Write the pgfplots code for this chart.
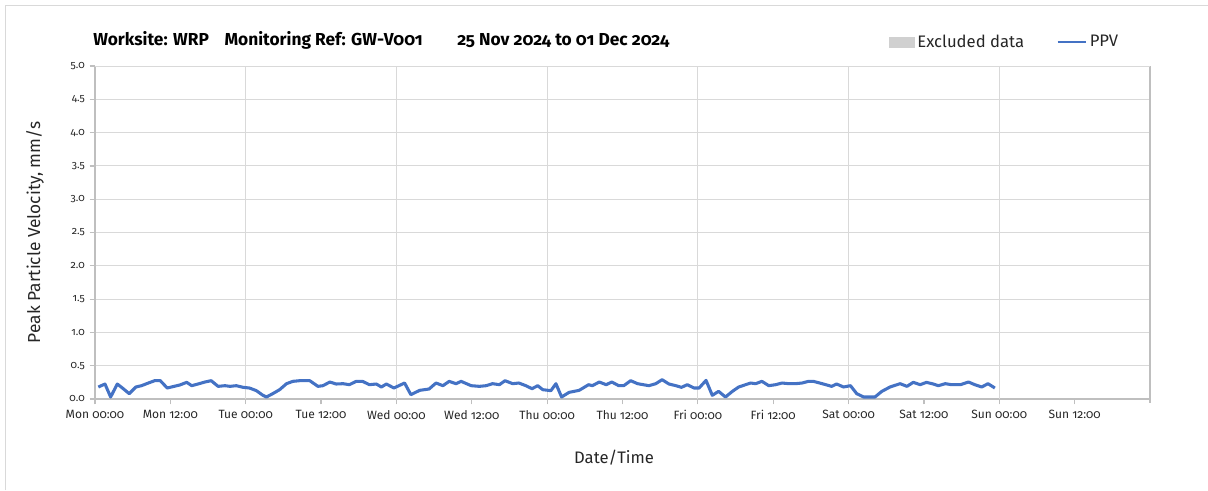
\documentclass[border=0pt]{standalone}
\usepackage{fontspec}
\setmainfont{Fira Sans}[Numbers=OldStyle]
\usepackage{pgfplots}
\pgfplotsset{compat=1.18}
\definecolor{ppv}{HTML}{4472C4}
\definecolor{gridc}{HTML}{D9D9D9}
\definecolor{axisc}{HTML}{BFBFBF}
\definecolor{excl}{HTML}{D0D0D0}
\definecolor{txt}{HTML}{262626}
\pgfplotstableread{
h v
0.53 0.18
1.59 0.225
2.49 0.03
3.55 0.225
4.5 0.155
5.45 0.08
6.5 0.18
7.4 0.2
8.5 0.24
9.5 0.275
10.4 0.275
11.5 0.165
12.6 0.19
13.5 0.21
14.6 0.25
15.4 0.2
16.4 0.225
17.5 0.255
18.5 0.275
19.6 0.19
20.7 0.2
21.5 0.19
22.5 0.2
23.6 0.175
24.6 0.165
25.7 0.125
26.75 0.055
27.3 0.03
28.3 0.08
29.4 0.14
30.5 0.23
31.5 0.265
32.6 0.275
34.2 0.275
35.5 0.19
36.3 0.2
37.4 0.255
38.4 0.225
39.5 0.23
40.5 0.215
41.6 0.265
42.6 0.265
43.7 0.215
44.8 0.225
45.6 0.18
46.4 0.225
47.6 0.165
49.3 0.24
50.3 0.065
51.7 0.13
53.2 0.15
54.3 0.24
55.4 0.2
56.4 0.265
57.5 0.23
58.3 0.265
59.9 0.2
61.2 0.19
62.3 0.2
63.3 0.23
64.4 0.215
65.3 0.275
66.5 0.23
67.5 0.24
68.6 0.2
69.6 0.155
70.5 0.2
71.3 0.14
72.6 0.125
73.4 0.23
74.3 0.03
75.5 0.1
77.1 0.13
78.6 0.215
79.2 0.2
80.3 0.255
81.4 0.215
82.3 0.255
83.4 0.2
84.2 0.2
85.3 0.275
86.4 0.23
88.2 0.2
89.3 0.23
90.3 0.29
91.4 0.225
92.5 0.2
93.4 0.175
94.3 0.215
95.4 0.165
96.2 0.165
97.3 0.28
98.3 0.055
99.3 0.115
100.4 0.03
101.5 0.115
102.5 0.18
103.6 0.215
104.4 0.24
105.2 0.23
106.2 0.265
107.3 0.2
108.4 0.215
109.4 0.24
110.5 0.23
111.5 0.23
112.6 0.24
113.6 0.265
114.4 0.265
115.8 0.23
117.3 0.19
118.1 0.225
119.2 0.18
120.3 0.2
121.3 0.08
122.4 0.03
124.2 0.03
125.3 0.115
126.6 0.18
128.2 0.23
129.3 0.19
130.3 0.25
131.4 0.215
132.4 0.25
133.5 0.225
134.3 0.2
135.4 0.23
136.4 0.215
137.8 0.215
139.1 0.255
140.1 0.215
141.2 0.18
142.2 0.23
143.3 0.165
}\ppvdata
\begin{document}
\begin{tikzpicture}
\useasboundingbox (0,0) rectangle (906pt,367.5pt);
\draw[color=gridc, line width=0.75pt] (3.75pt,0pt) -- (3.75pt,363pt) -- (906pt,363pt);
\begin{axis}[
  at={(71.25pt,68.25pt)}, anchor=south west,
  scale only axis, width=791.25pt, height=249.75pt,
  xmin=0, xmax=168, ymin=0, ymax=5,
  axis line style={color=axisc, line width=1.1pt},
  axis x line*=bottom, axis y line*=left,
  xtick={0,12,...,156},
  xticklabels={Mon 00:00,Mon 12:00,Tue 00:00,Tue 12:00,Wed 00:00,Wed 12:00,Thu 00:00,Thu 12:00,Fri 00:00,Fri 12:00,Sat 00:00,Sat 12:00,Sun 00:00,Sun 12:00},
  extra x ticks={24,48,...,168},
  extra x tick labels={},
  extra x tick style={grid=major, major tick length=0pt, major grid style={color=gridc, line width=0.75pt}},
  ytick={0,0.5,...,5},
  yticklabels={0.0,0.5,1.0,1.5,2.0,2.5,3.0,3.5,4.0,4.5,5.0},
  ymajorgrids, major grid style={color=gridc, line width=0.75pt},
  tick style={color=axisc, line width=0.9pt},
  major tick length=4pt,
  tick align=outside,
  xticklabel style={font=\fontsize{9}{10}\selectfont, text=txt, yshift=-1pt},
  yticklabel style={font=\fontsize{8}{9}\selectfont, text=txt},
  xlabel={Date/Time}, ylabel={Peak Particle Velocity, mm/s},
  label style={font=\fontsize{12.5}{14}\selectfont, text=txt},
  ylabel style={at={(axis description cs:-0.0569,0.5)}, anchor=center, font=\fontsize{13}{14}\selectfont},
  xlabel style={at={(axis description cs:0.492,-0.177)}, anchor=center},
  legend style={at={(0.9763,1.072)}, anchor=east, draw=none, fill=none,
    legend columns=2, font=\fontsize{12.5}{14}\selectfont, text=txt,
    /tikz/every even column/.append style={column sep=22pt}},
  clip=false,
]
\addlegendimage{legend image code/.code={\fill[excl] (0pt,-3.75pt) rectangle (19pt,3.75pt);}}
\addlegendentry{Excluded data}
\addplot[color=ppv, line width=2.3pt, line join=round, legend image code/.code={\draw[ppv, line width=2.2pt] (0pt,0pt) -- (21pt,0pt);}] table[x=h, y=v] {\ppvdata};
\addlegendentry{PPV}
\draw[color=axisc, line width=1.1pt] (axis cs:168,-0.06) -- (axis cs:168,5);
\draw[color=gridc, line width=0.75pt] (axis cs:0,5) -- (axis cs:168,5);
\end{axis}
\node[anchor=west, font=\bfseries\fontsize{13}{15}\selectfont, inner sep=0pt] at (69.75pt,337.5pt) {Worksite: WRP\hspace{0.9em}Monitoring Ref: GW-V001\hspace{2em}25 Nov 2024 to 01 Dec 2024};
\end{tikzpicture}
\end{document}
